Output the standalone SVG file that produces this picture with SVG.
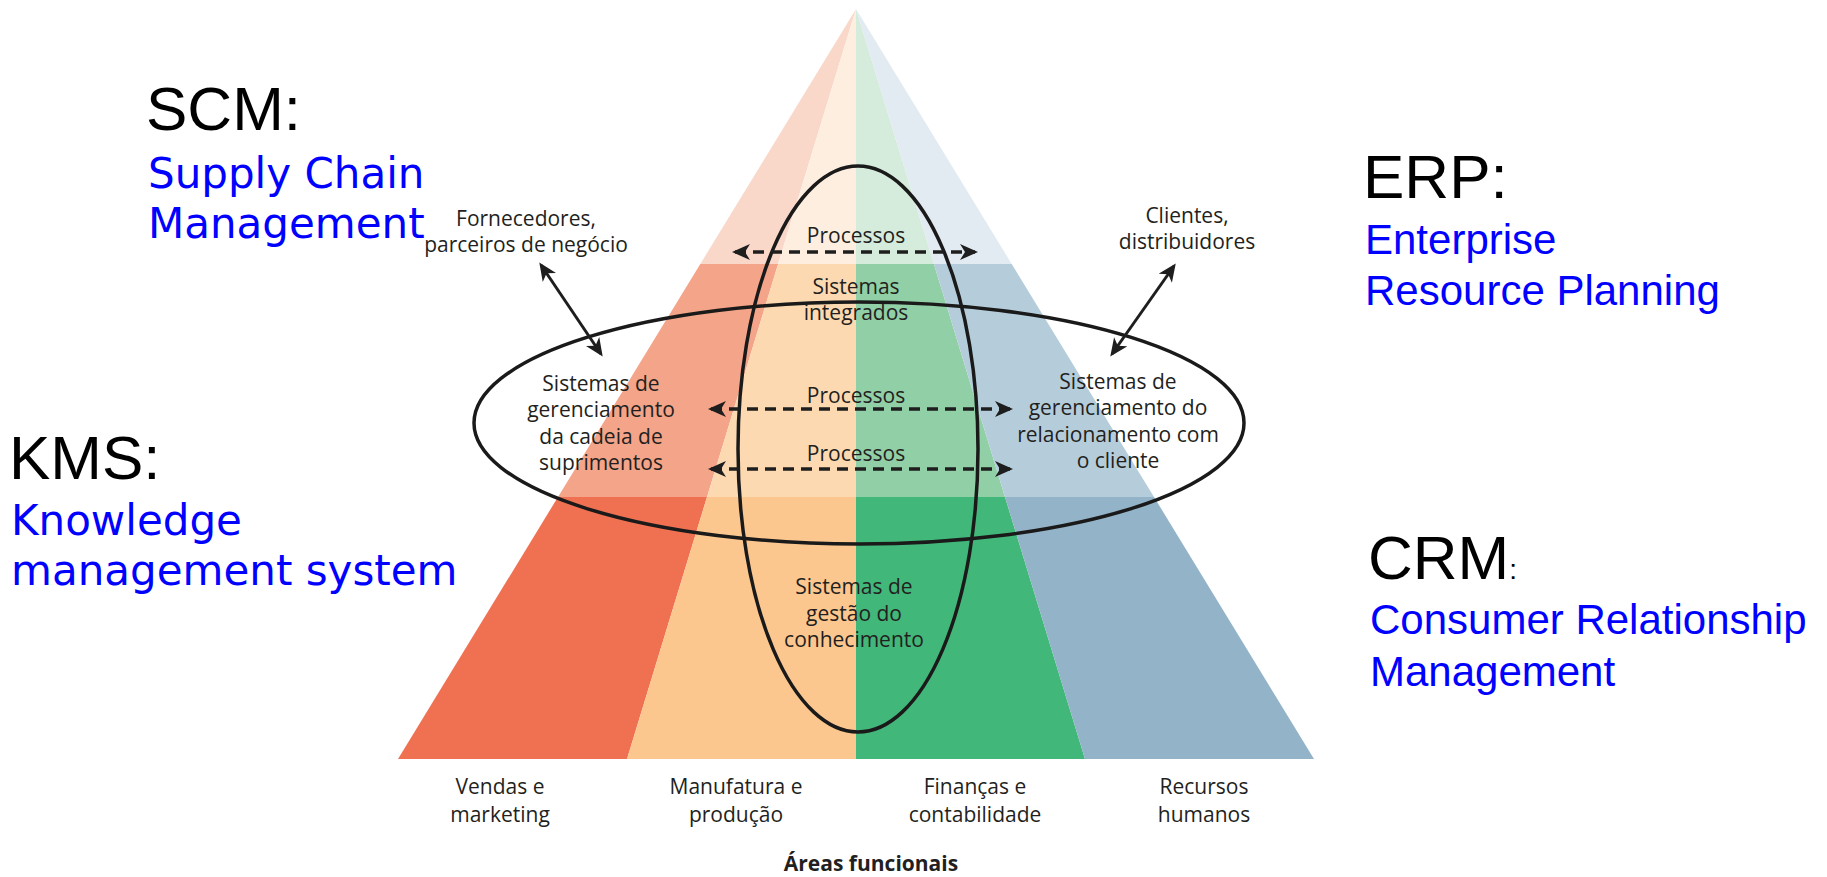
<svg xmlns="http://www.w3.org/2000/svg" width="1827" height="877" viewBox="0 0 1827 877">
<defs>
<marker id="ah" viewBox="0 0 18 16" markerWidth="18" markerHeight="16" refX="15" refY="8" orient="auto-start-reverse" markerUnits="userSpaceOnUse">
<path d="M0,0 L18,8 L0,16 L5,8 Z" fill="#1e1e1e" stroke="none"/>
</marker>
</defs>
<style>
.t{font-family:"Open Sans","Noto Sans",sans-serif;font-size:21px;fill:#231f20;text-anchor:middle}
.tb{font-family:"Open Sans","Noto Sans",sans-serif;font-size:21px;font-weight:bold;fill:#231f20;text-anchor:middle}
.big{font-family:"Liberation Sans",Arial,sans-serif;font-size:62px;fill:#000}
.bl{font-family:"Liberation Sans",Arial,sans-serif;font-size:42px;fill:#0000ff}
.bd{font-family:"DejaVu Sans",sans-serif;font-size:42px;fill:#0000ff}
.ell{fill:none;stroke:#1a1a1a;stroke-width:3.5}
.dash{fill:none;stroke:#1e1e1e;stroke-width:3.5;stroke-dasharray:11 7;marker-start:url(#ah);marker-end:url(#ah)}
.sol{fill:none;stroke:#1e1e1e;stroke-width:3;marker-start:url(#ah);marker-end:url(#ah)}
</style>
<rect width="1827" height="877" fill="#ffffff"/>
<g id="pyramid">
<polygon points="856,9 700.3,264 778.1,264" fill="#f9d8ca"/>
<polygon points="856,9 778.1,264 856,264" fill="#fdeedf"/>
<polygon points="856,9 856,264 933.9,264" fill="#d5ebdc"/>
<polygon points="856,9 933.9,264 1011.7,264" fill="#e2ebf2"/>
<polygon points="700.3,264 778.1,264 707,497 558,497" fill="#f4a488"/>
<polygon points="778.1,264 856,264 856,497 707,497" fill="#fdd9b1"/>
<polygon points="856,264 933.9,264 1005,497 856,497" fill="#91cfa6"/>
<polygon points="933.9,264 1011.7,264 1154,497 1005,497" fill="#b5cddb"/>
<polygon points="558,497 707,497 627,759 398,759" fill="#f07052"/>
<polygon points="707,497 856,497 856,759 627,759" fill="#fcc78e"/>
<polygon points="856,497 1005,497 1085,759 856,759" fill="#42b77a"/>
<polygon points="1005,497 1154,497 1314,759 1085,759" fill="#93b3c8"/>
</g>
<g id="ellipses">
<ellipse id="erp-ellipse" class="ell" cx="859" cy="423" rx="385" ry="121"/>
<ellipse id="kms-ellipse" class="ell" cx="858" cy="449" rx="120" ry="283"/>
</g>
<g id="connectors">
<line class="dash" x1="735" y1="252" x2="975" y2="252"/>
<line class="dash" x1="711" y1="409" x2="1010" y2="409"/>
<line class="dash" x1="711" y1="469" x2="1010" y2="469"/>
<line class="sol" x1="541" y1="265" x2="601" y2="354"/>
<line class="sol" x1="1174" y1="266" x2="1112" y2="354"/>
</g>
<g id="center-labels">
<text class="t" x="856" y="243">Processos</text>
<text class="t" x="856" y="294">Sistemas</text>
<text class="t" x="856" y="320">integrados</text>
<text class="t" x="856" y="403">Processos</text>
<text class="t" x="856" y="461">Processos</text>
</g>
<g id="scm-node">
<text class="t" x="601" y="391">Sistemas de</text>
<text class="t" x="601" y="417">gerenciamento</text>
<text class="t" x="601" y="444">da cadeia de</text>
<text class="t" x="601" y="470">suprimentos</text>
</g>
<g id="crm-node">
<text class="t" x="1118" y="389">Sistemas de</text>
<text class="t" x="1118" y="415">gerenciamento do</text>
<text class="t" x="1118" y="442">relacionamento com</text>
<text class="t" x="1118" y="468">o cliente</text>
</g>
<g id="suppliers-node">
<text class="t" x="526" y="226">Fornecedores,</text>
<text class="t" x="526" y="252">parceiros de negócio</text>
</g>
<g id="clients-node">
<text class="t" x="1187" y="223">Clientes,</text>
<text class="t" x="1187" y="249">distribuidores</text>
</g>
<g id="kms-node">
<text class="t" x="854" y="594">Sistemas de</text>
<text class="t" x="854" y="621">gestão do</text>
<text class="t" x="854" y="647">conhecimento</text>
</g>
<g id="areas">
<text class="t" x="500" y="794">Vendas e</text>
<text class="t" x="500" y="822">marketing</text>
<text class="t" x="736" y="794">Manufatura e</text>
<text class="t" x="736" y="822">produção</text>
<text class="t" x="975" y="794">Finanças e</text>
<text class="t" x="975" y="822">contabilidade</text>
<text class="t" x="1204" y="794">Recursos</text>
<text class="t" x="1204" y="822">humanos</text>
<text class="tb" x="871" y="871">Áreas funcionais</text>
</g>
<g id="scm-label">
<text class="big" x="146" y="130">SCM:</text>
<text class="bd" x="148" y="188">Supply Chain</text>
<text class="bd" x="148" y="238">Management</text>
</g>
<g id="kms-label">
<text class="big" x="9" y="479">KMS:</text>
<text class="bd" x="11" y="535">Knowledge</text>
<text class="bd" x="11" y="585">management system</text>
</g>
<g id="erp-label">
<text class="big" x="1363" y="198">ERP:</text>
<text class="bl" x="1365" y="254">Enterprise</text>
<text class="bl" x="1365" y="305">Resource Planning</text>
</g>
<g id="crm-label">
<text class="big" x="1368" y="579">CRM<tspan font-size="28">:</tspan></text>
<text class="bl" x="1370" y="634">Consumer Relationship</text>
<text class="bl" x="1370" y="686">Management</text>
</g>
</svg>
